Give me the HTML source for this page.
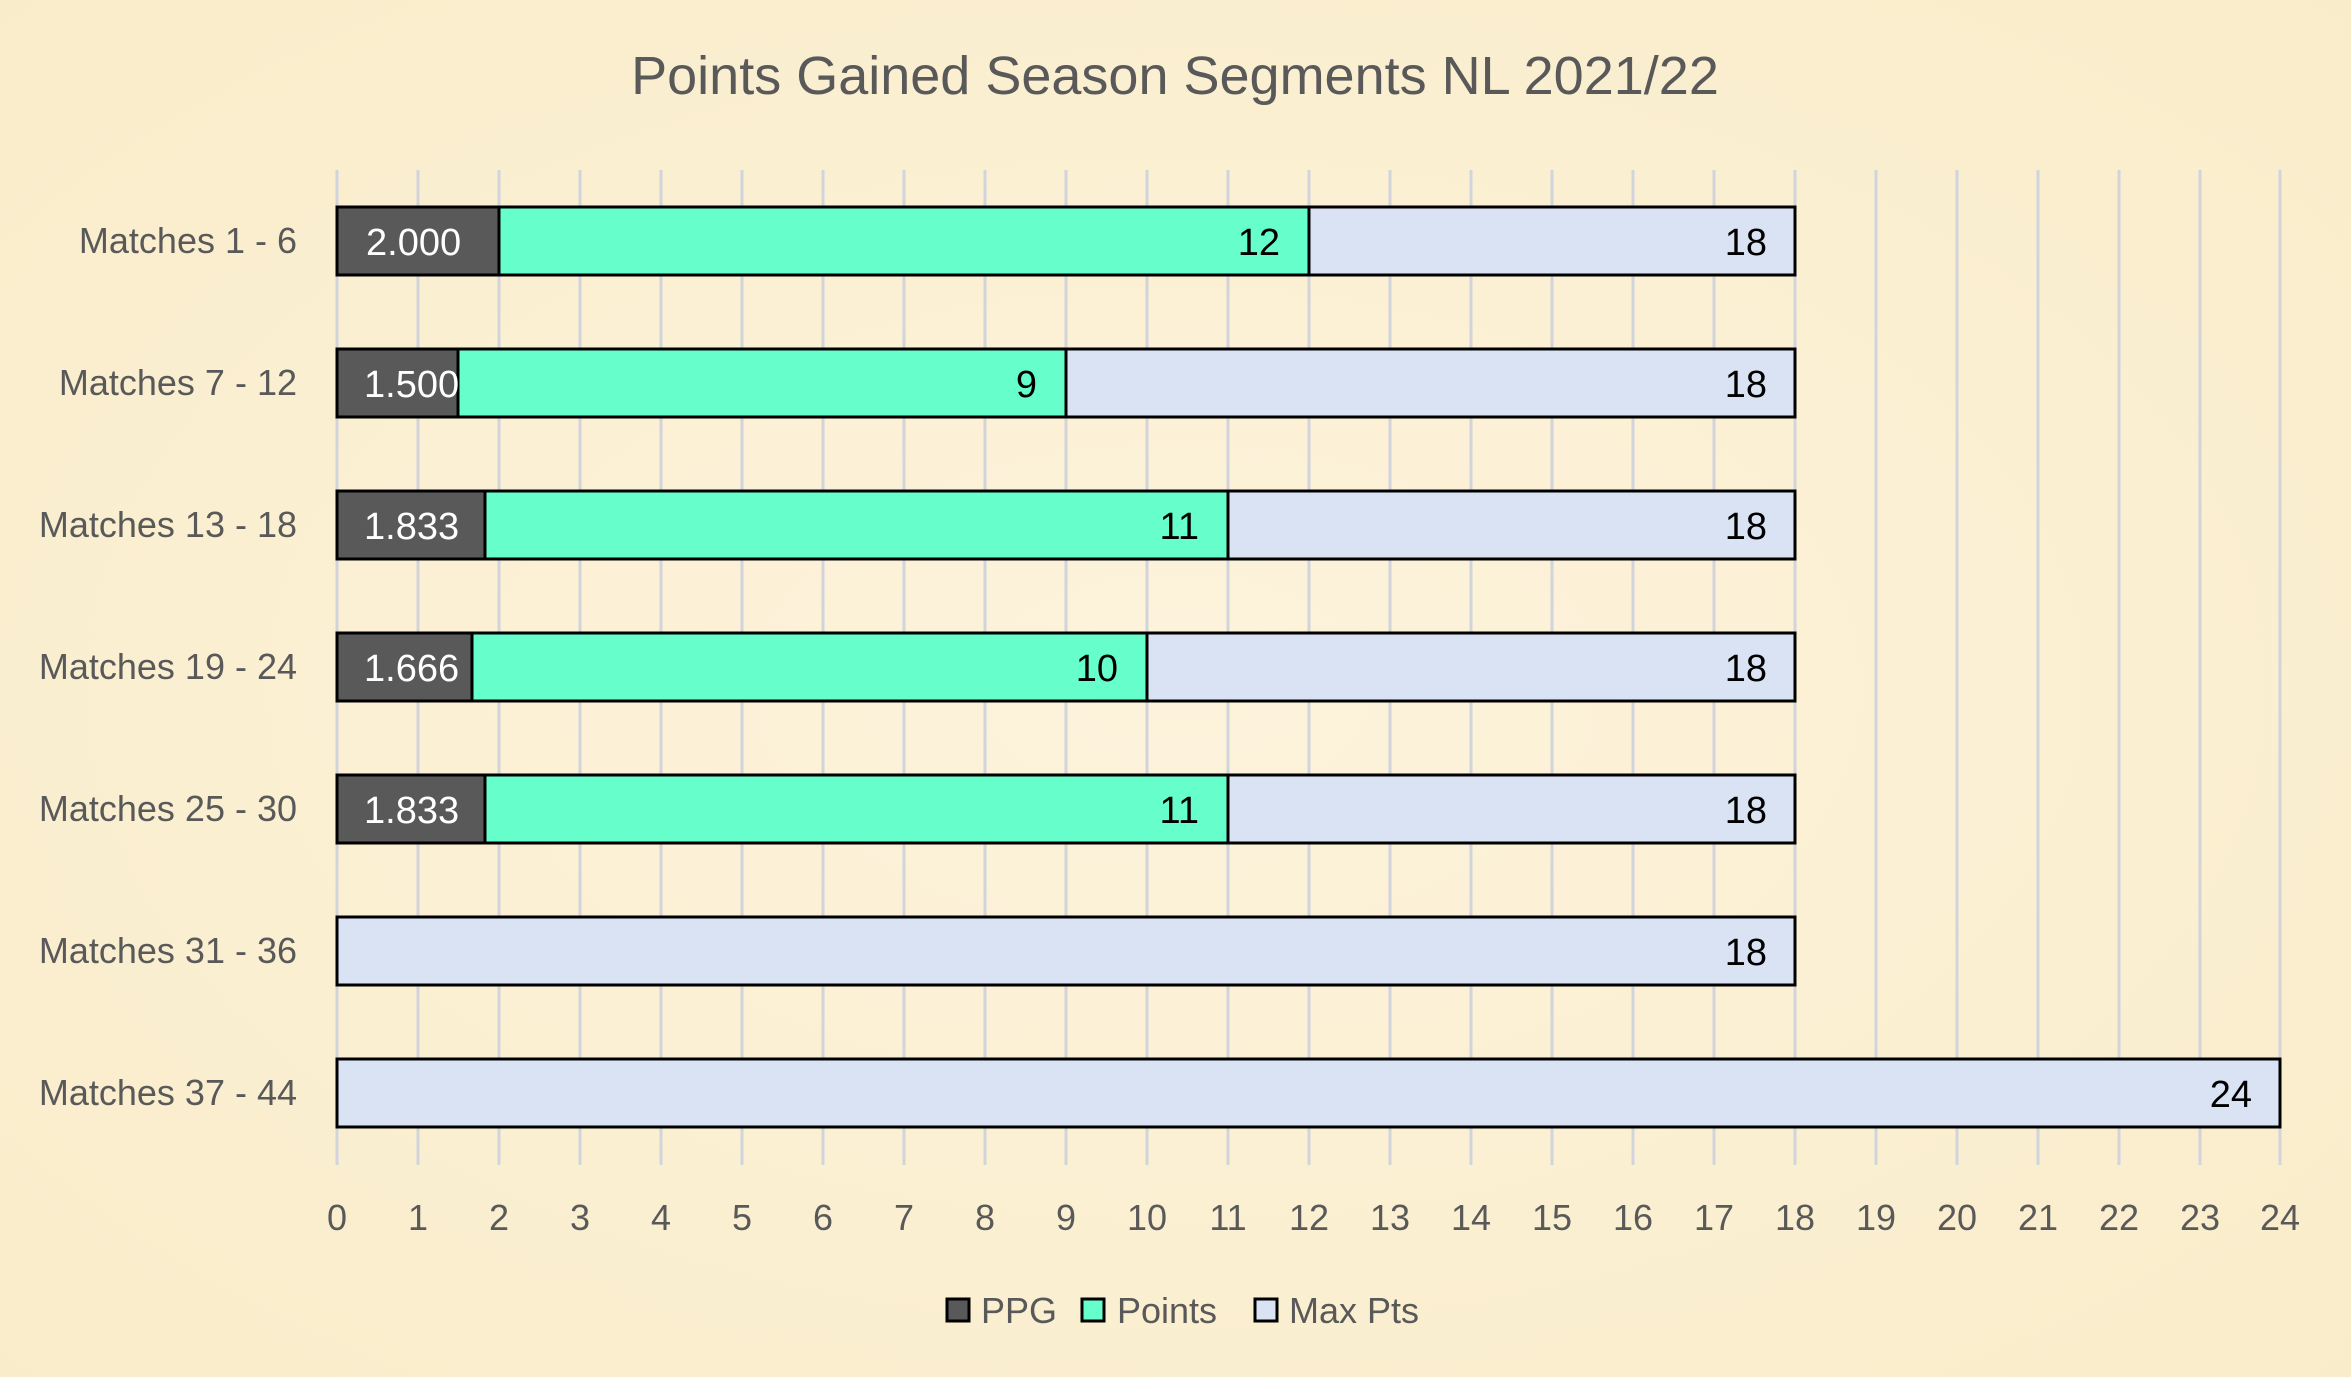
<!DOCTYPE html>
<html><head><meta charset="utf-8"><style>
html,body{margin:0;padding:0;background:#fcf0d6;}
svg{display:block;font-family:"Liberation Sans",sans-serif;}
</style></head><body>
<svg width="2351" height="1377" viewBox="0 0 2351 1377" xmlns="http://www.w3.org/2000/svg">
<defs><radialGradient id="bg" cx="50%" cy="50%" r="75%"><stop offset="0" stop-color="#fdf3dc"/><stop offset="1" stop-color="#f9ecc9"/></radialGradient></defs>
<rect width="2351" height="1377" fill="url(#bg)"/>
<text x="1175" y="94" text-anchor="middle" font-size="54" fill="#595959">Points Gained Season Segments NL 2021/22</text>
<g stroke="#d2d4dc" stroke-width="3">
<line x1="337" y1="170" x2="337" y2="1165"/><line x1="418" y1="170" x2="418" y2="1165"/><line x1="499" y1="170" x2="499" y2="1165"/><line x1="580" y1="170" x2="580" y2="1165"/><line x1="661" y1="170" x2="661" y2="1165"/><line x1="742" y1="170" x2="742" y2="1165"/><line x1="823" y1="170" x2="823" y2="1165"/><line x1="904" y1="170" x2="904" y2="1165"/><line x1="985" y1="170" x2="985" y2="1165"/><line x1="1066" y1="170" x2="1066" y2="1165"/><line x1="1147" y1="170" x2="1147" y2="1165"/><line x1="1228" y1="170" x2="1228" y2="1165"/><line x1="1309" y1="170" x2="1309" y2="1165"/><line x1="1390" y1="170" x2="1390" y2="1165"/><line x1="1471" y1="170" x2="1471" y2="1165"/><line x1="1552" y1="170" x2="1552" y2="1165"/><line x1="1633" y1="170" x2="1633" y2="1165"/><line x1="1714" y1="170" x2="1714" y2="1165"/><line x1="1795" y1="170" x2="1795" y2="1165"/><line x1="1876" y1="170" x2="1876" y2="1165"/><line x1="1957" y1="170" x2="1957" y2="1165"/><line x1="2038" y1="170" x2="2038" y2="1165"/><line x1="2119" y1="170" x2="2119" y2="1165"/><line x1="2200" y1="170" x2="2200" y2="1165"/><line x1="2280" y1="170" x2="2280" y2="1165"/>
</g>
<g font-size="36" fill="#595959" text-anchor="middle">
<text x="337" y="1230">0</text><text x="418" y="1230">1</text><text x="499" y="1230">2</text><text x="580" y="1230">3</text><text x="661" y="1230">4</text><text x="742" y="1230">5</text><text x="823" y="1230">6</text><text x="904" y="1230">7</text><text x="985" y="1230">8</text><text x="1066" y="1230">9</text><text x="1147" y="1230">10</text><text x="1228" y="1230">11</text><text x="1309" y="1230">12</text><text x="1390" y="1230">13</text><text x="1471" y="1230">14</text><text x="1552" y="1230">15</text><text x="1633" y="1230">16</text><text x="1714" y="1230">17</text><text x="1795" y="1230">18</text><text x="1876" y="1230">19</text><text x="1957" y="1230">20</text><text x="2038" y="1230">21</text><text x="2119" y="1230">22</text><text x="2200" y="1230">23</text><text x="2280" y="1230">24</text>
</g>
<g font-size="36" fill="#595959" text-anchor="end">
<text x="297" y="253">Matches 1 - 6</text><text x="297" y="395">Matches 7 - 12</text><text x="297" y="537">Matches 13 - 18</text><text x="297" y="679">Matches 19 - 24</text><text x="297" y="821">Matches 25 - 30</text><text x="297" y="963">Matches 31 - 36</text><text x="297" y="1105">Matches 37 - 44</text>
</g>
<g stroke="#000" stroke-width="3">
<rect x="337" y="207" width="1458" height="68" fill="#dae3f3"/><rect x="337" y="207" width="972" height="68" fill="#66ffcc"/><rect x="337" y="207" width="162" height="68" fill="#595959"/>
<rect x="337" y="349" width="1458" height="68" fill="#dae3f3"/><rect x="337" y="349" width="729" height="68" fill="#66ffcc"/><rect x="337" y="349" width="121" height="68" fill="#595959"/>
<rect x="337" y="491" width="1458" height="68" fill="#dae3f3"/><rect x="337" y="491" width="891" height="68" fill="#66ffcc"/><rect x="337" y="491" width="148" height="68" fill="#595959"/>
<rect x="337" y="633" width="1458" height="68" fill="#dae3f3"/><rect x="337" y="633" width="810" height="68" fill="#66ffcc"/><rect x="337" y="633" width="135" height="68" fill="#595959"/>
<rect x="337" y="775" width="1458" height="68" fill="#dae3f3"/><rect x="337" y="775" width="891" height="68" fill="#66ffcc"/><rect x="337" y="775" width="148" height="68" fill="#595959"/>
<rect x="337" y="917" width="1458" height="68" fill="#dae3f3"/>
<rect x="337" y="1059" width="1943" height="68" fill="#dae3f3"/>
</g>
<g font-size="38" fill="#fff">
<text x="366" y="255">2.000</text><text x="364" y="397">1.500</text><text x="364" y="539">1.833</text><text x="364" y="681">1.666</text><text x="364" y="823">1.833</text>
</g>
<g font-size="38" fill="#000" text-anchor="end">
<text x="1280" y="255">12</text><text x="1037" y="397">9</text><text x="1199" y="539">11</text><text x="1118" y="681">10</text><text x="1199" y="823">11</text>
<text x="1767" y="255">18</text><text x="1767" y="397">18</text><text x="1767" y="539">18</text><text x="1767" y="681">18</text><text x="1767" y="823">18</text><text x="1767" y="965">18</text><text x="2252" y="1107">24</text>
</g>
<g stroke="#000" stroke-width="3">
<rect x="947" y="1299" width="22" height="22" fill="#595959"/><rect x="1082" y="1299" width="22" height="22" fill="#66ffcc"/><rect x="1255" y="1299" width="22" height="22" fill="#dae3f3"/>
</g>
<g font-size="36" fill="#595959">
<text x="981" y="1323">PPG</text><text x="1117" y="1323">Points</text><text x="1289" y="1323">Max Pts</text>
</g>
</svg>
</body></html>
